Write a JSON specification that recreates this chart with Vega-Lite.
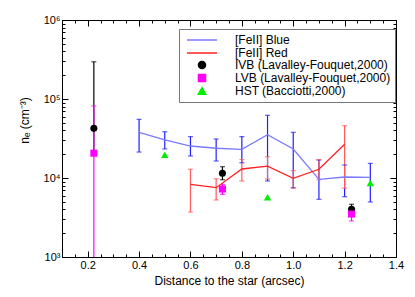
{
  "$schema": "https://vega.github.io/schema/vega-lite/v6.json",
  "width": 334,
  "height": 237,
  "autosize": "none",
  "padding": {"left": 62, "top": 20, "right": 19, "bottom": 40},
  "background": "white",
  "config": {
    "view": {"stroke": "black", "strokeWidth": 1},
    "axis": {"grid": false, "labelFont": "Liberation Sans", "titleFont": "Liberation Sans", "labelFontSize": 11, "titleFontSize": 12, "titleFontWeight": "normal", "labelColor": "black", "titleColor": "black", "tickColor": "black", "domainColor": "black", "tickWidth": 1, "ticks": true},
    "legend": {"labelFont": "Liberation Sans", "labelFontSize": 12, "labelColor": "black"}
  },
  "resolve": {"axis": {"x": "independent", "y": "independent"}},
  "data": {"values": [
    {"series": "[FeII] Blue", "x": 0.4, "y": 37900, "lo": 21300, "hi": 55300},
    {"series": "[FeII] Blue", "x": 0.5, "y": 30300, "lo": 23300, "hi": 38500},
    {"series": "[FeII] Blue", "x": 0.6, "y": 25400, "lo": 19000, "hi": 33400},
    {"series": "[FeII] Blue", "x": 0.7, "y": 23800, "lo": 16400, "hi": 31200},
    {"series": "[FeII] Blue", "x": 0.8, "y": 23100, "lo": 15600, "hi": 33400},
    {"series": "[FeII] Blue", "x": 0.9, "y": 35400, "lo": 9160, "hi": 62200},
    {"series": "[FeII] Blue", "x": 1.0, "y": 23300, "lo": 7540, "hi": 37900},
    {"series": "[FeII] Blue", "x": 1.1, "y": 9620, "lo": 5370, "hi": 16900},
    {"series": "[FeII] Blue", "x": 1.2, "y": 10300, "lo": 5790, "hi": 14600},
    {"series": "[FeII] Blue", "x": 1.3, "y": 10200, "lo": 4970, "hi": 15300},
    {"series": "[FeII] Red", "x": 0.6, "y": 8310, "lo": 3710, "hi": 12900},
    {"series": "[FeII] Red", "x": 0.7, "y": 7540, "lo": 5270, "hi": 9790},
    {"series": "[FeII] Red", "x": 0.8, "y": 13000, "lo": 9160, "hi": 17100},
    {"series": "[FeII] Red", "x": 0.9, "y": 14100, "lo": 9700, "hi": 18600},
    {"series": "[FeII] Red", "x": 1.0, "y": 9900, "lo": 7420, "hi": 12400},
    {"series": "[FeII] Red", "x": 1.1, "y": 12900, "lo": 9510, "hi": 17100},
    {"series": "[FeII] Red", "x": 1.2, "y": 26700, "lo": 7420, "hi": 45900},
    {"series": "IVB (Lavalley-Fouquet,2000)", "x": 0.224, "y": 42500, "lo": 20000, "hi": 296000},
    {"series": "IVB (Lavalley-Fouquet,2000)", "x": 0.7245, "y": 11500, "lo": 9500, "hi": 13900},
    {"series": "IVB (Lavalley-Fouquet,2000)", "x": 1.227, "y": 4020, "lo": 3600, "hi": 4650},
    {"series": "LVB (Lavalley-Fouquet,2000)", "x": 0.224, "y": 20600, "lo": 700, "hi": 81500},
    {"series": "LVB (Lavalley-Fouquet,2000)", "x": 0.7245, "y": 7260, "lo": 6200, "hi": 8300},
    {"series": "LVB (Lavalley-Fouquet,2000)", "x": 1.227, "y": 3500, "lo": 2860, "hi": 4200},
    {"series": "HST (Bacciotti,2000)", "x": 0.5, "y": 19700},
    {"series": "HST (Bacciotti,2000)", "x": 0.9, "y": 5700},
    {"series": "HST (Bacciotti,2000)", "x": 1.3, "y": 8640}
  ]},
  "layer": [
    {
      "transform": [{"filter": "isValid(datum.lo)"}],
      "mark": {"type": "rule", "clip": true, "strokeWidth": 1.2},
      "encoding": {
        "x": {"field": "x", "type": "quantitative", "scale": {"domain": [0.1, 1.4], "nice": false, "zero": false},
          "axis": {"orient": "bottom", "title": "Distance to the star (arcsec)", "values": [0.1,0.15,0.2,0.25,0.3,0.35,0.4,0.45,0.5,0.55,0.6,0.65,0.7,0.75,0.8,0.85,0.9,0.95,1.0,1.05,1.1,1.15,1.2,1.25,1.3,1.35,1.4],
            "labelExpr": "abs(datum.value*5 - round(datum.value*5)) < 0.001 ? format(datum.value, '.1f') : ''",
            "tickSize": {"condition": {"test": "abs(datum.value*5 - round(datum.value*5)) < 0.001", "value": -6}, "value": -3},
            "labelPadding": 8, "titlePadding": 2, "labelFlush": false, "labelOverlap": false}},
        "y": {"field": "lo", "type": "quantitative", "scale": {"type": "log", "domain": [1000, 1000000], "nice": false},
          "axis": {"orient": "left", "title": "nₑ (cm⁻³)", "titleX": -31, "titleY": 100,
            "values": [1000,2000,3000,4000,5000,6000,7000,8000,9000,10000,20000,30000,40000,50000,60000,70000,80000,90000,100000,200000,300000,400000,500000,600000,700000,800000,900000,1000000],
            "labelExpr": "datum.value==1000?'10³':datum.value==10000?'10⁴':datum.value==100000?'10⁵':datum.value==1000000?'10⁶':''",
            "tickSize": {"condition": {"test": "datum.value==1000||datum.value==10000||datum.value==100000||datum.value==1000000", "value": -6}, "value": -3},
            "labelPadding": 8, "labelFlush": false, "labelOverlap": false}},
        "y2": {"field": "hi"},
        "stroke": {"field": "series", "type": "nominal", "legend": null,
          "scale": {"domain": ["[FeII] Blue", "[FeII] Red", "IVB (Lavalley-Fouquet,2000)", "LVB (Lavalley-Fouquet,2000)"], "range": ["#1f1fff", "#ff5a5a", "#000000", "#ff00ff"]}}
      }
    },
    {
      "transform": [{"filter": "isValid(datum.lo)"}],
      "mark": {"type": "tick", "orient": "horizontal", "size": 5, "thickness": 1.2, "clip": true},
      "encoding": {
        "x": {"field": "x", "type": "quantitative", "axis": null},
        "y": {"field": "lo", "type": "quantitative", "axis": null},
        "fill": {"field": "series", "type": "nominal", "legend": null,
          "scale": {"domain": ["[FeII] Blue", "[FeII] Red", "IVB (Lavalley-Fouquet,2000)", "LVB (Lavalley-Fouquet,2000)"], "range": ["#1f1fff", "#ff5a5a", "#000000", "#ff00ff"]}}
      }
    },
    {
      "transform": [{"filter": "isValid(datum.hi)"}],
      "mark": {"type": "tick", "orient": "horizontal", "size": 5, "thickness": 1.2, "clip": true},
      "encoding": {
        "x": {"field": "x", "type": "quantitative", "axis": null},
        "y": {"field": "hi", "type": "quantitative", "axis": null},
        "fill": {"field": "series", "type": "nominal", "legend": null}
      }
    },
    {
      "transform": [{"filter": "datum.series == '[FeII] Blue' || datum.series == '[FeII] Red'"}],
      "mark": {"type": "line", "strokeWidth": 1.3},
      "encoding": {
        "x": {"field": "x", "type": "quantitative", "axis": null},
        "y": {"field": "y", "type": "quantitative", "axis": null},
        "color": {"field": "series", "type": "nominal", "sort": null,
          "scale": {"domain": ["[FeII] Blue", "[FeII] Red", "IVB (Lavalley-Fouquet,2000)", "LVB (Lavalley-Fouquet,2000)", "HST (Bacciotti,2000)"], "range": ["#7a7aff", "#ff2020", "#000000", "#ff00ff", "#00ee00"]},
          "legend": {"title": null, "orient": "none", "legendX": 117, "legendY": 9, "strokeColor": "#777777", "fillColor": "white", "padding": 4, "rowPadding": -2, "symbolStrokeWidth": 1.5, "symbolOffset": 12, "labelOffset": 26,
            "encode": {"symbols": {"update": {
              "fill": {"scale": "color", "field": "value"},
              "stroke": {"scale": "color", "field": "value"}
            }}}}}
      }
    },
    {
      "transform": [{"filter": "datum.series != '[FeII] Blue' && datum.series != '[FeII] Red'"}],
      "mark": {"type": "point", "filled": true, "opacity": 1},
      "encoding": {
        "x": {"field": "x", "type": "quantitative",
          "axis": {"orient": "top", "title": null, "labels": false, "values": [0.1,0.15,0.2,0.25,0.3,0.35,0.4,0.45,0.5,0.55,0.6,0.65,0.7,0.75,0.8,0.85,0.9,0.95,1.0,1.05,1.1,1.15,1.2,1.25,1.3,1.35,1.4],
            "tickSize": {"condition": {"test": "abs(datum.value*5 - round(datum.value*5)) < 0.001", "value": -6}, "value": -3}}},
        "y": {"field": "y", "type": "quantitative",
          "axis": {"orient": "right", "title": null, "labels": false,
            "values": [1000,2000,3000,4000,5000,6000,7000,8000,9000,10000,20000,30000,40000,50000,60000,70000,80000,90000,100000,200000,300000,400000,500000,600000,700000,800000,900000,1000000],
            "tickSize": {"condition": {"test": "datum.value==1000||datum.value==10000||datum.value==100000||datum.value==1000000", "value": -6}, "value": -3}}},
        "color": {"field": "series", "type": "nominal", "sort": null},
        "shape": {"field": "series", "type": "nominal", "sort": null,
          "scale": {"domain": ["[FeII] Blue", "[FeII] Red", "IVB (Lavalley-Fouquet,2000)", "LVB (Lavalley-Fouquet,2000)", "HST (Bacciotti,2000)"], "range": ["M-2.5,0L2.5,0", "M-2.5,0L2.5,0", "circle", "square", "triangle-up"]}},
        "size": {"field": "series", "type": "nominal", "sort": null,
          "scale": {"type": "ordinal", "domain": ["[FeII] Blue", "[FeII] Red", "IVB (Lavalley-Fouquet,2000)", "LVB (Lavalley-Fouquet,2000)", "HST (Bacciotti,2000)"], "range": [144, 144, 50, 50, 55]}}
      }
    }
  ]
}
